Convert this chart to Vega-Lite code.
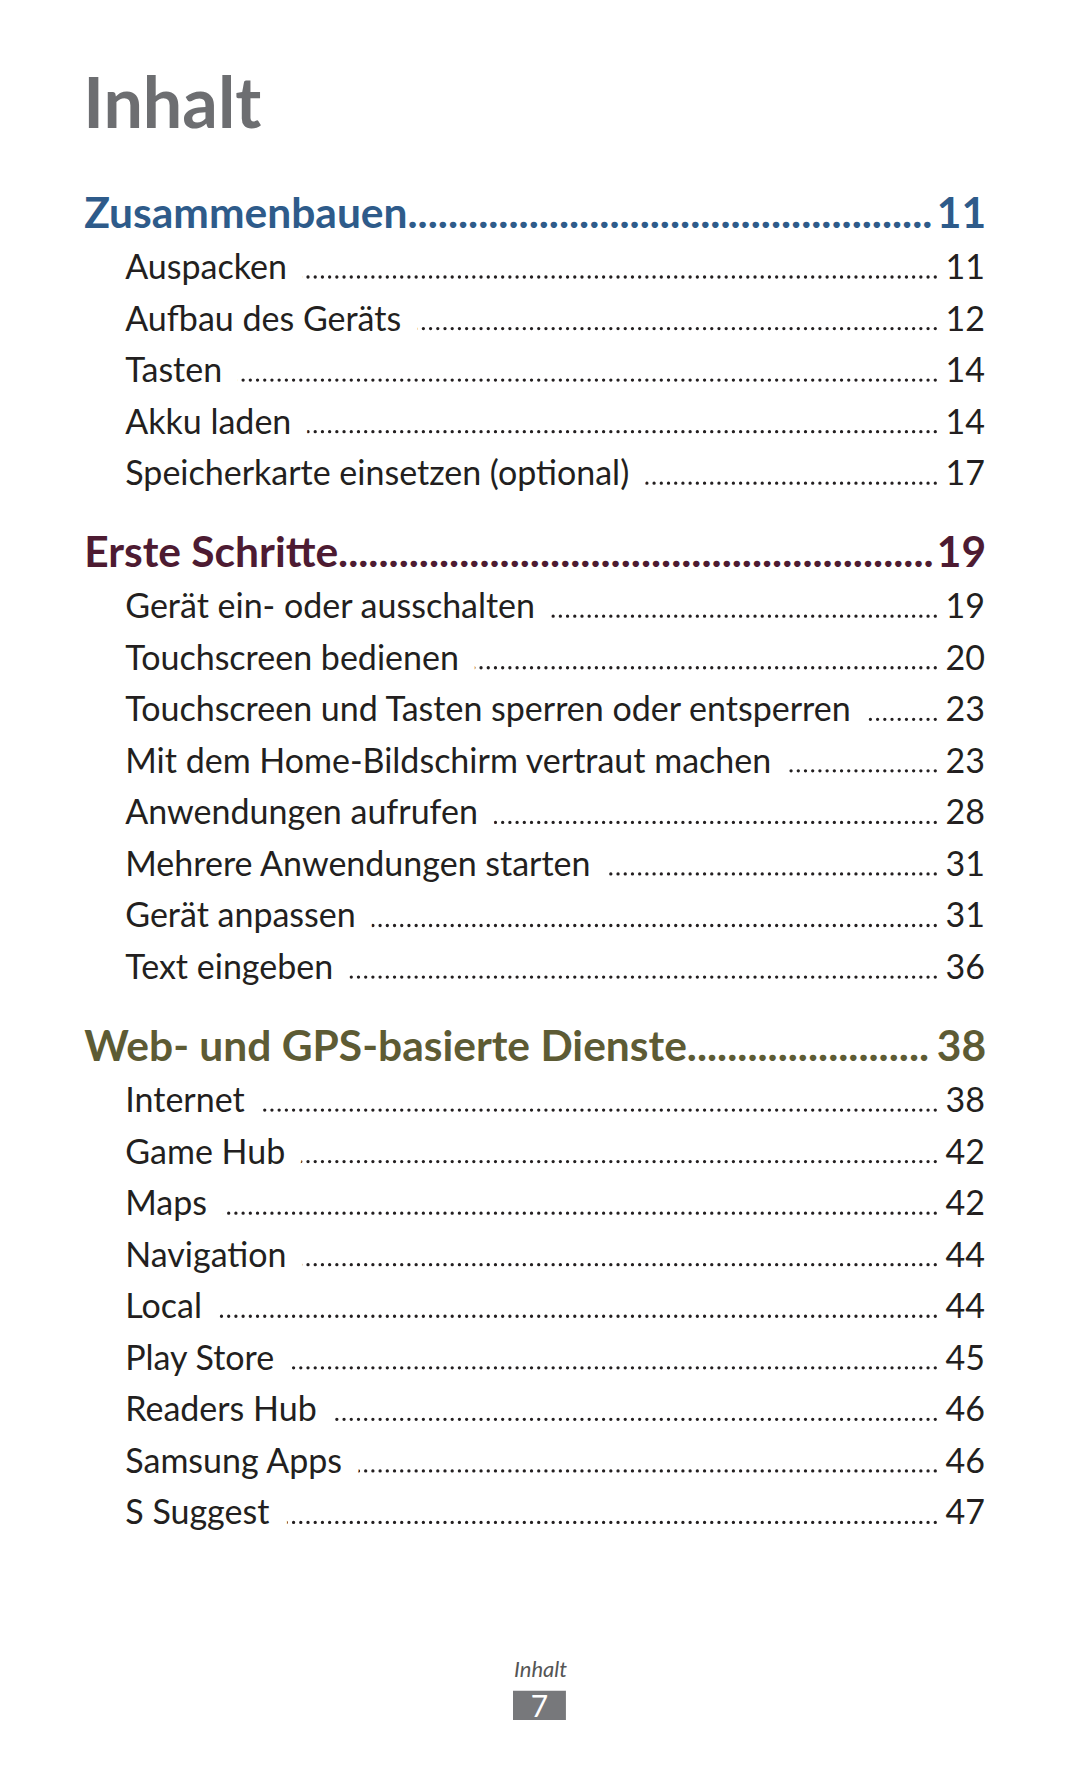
{"$schema":"https://vega.github.io/schema/vega-lite/v6.json","width":1080,"height":1771,"autosize":{"type":"fit","contains":"padding"},"padding":0,"background":"white","config":{"view":{"stroke":null}},
"datasets":{
"toc":[
{"kind":"section","label":"Zusammenbauen","page":"11","line":-0.01,"section":"Zusammenbauen"},
{"kind":"entry","label":"Auspacken","page":"11","line":1,"section":"Zusammenbauen"},
{"kind":"entry","label":"Aufbau des Geräts","page":"12","line":2,"section":"Zusammenbauen"},
{"kind":"entry","label":"Tasten","page":"14","line":3,"section":"Zusammenbauen"},
{"kind":"entry","label":"Akku laden","page":"14","line":4,"section":"Zusammenbauen"},
{"kind":"entry","label":"Speicherkarte einsetzen (optional)","page":"17","line":5,"section":"Zusammenbauen"},
{"kind":"section","label":"Erste Schritte","page":"19","line":6.56,"section":"Erste Schritte"},
{"kind":"entry","label":"Gerät ein- oder ausschalten","page":"19","line":7.58,"section":"Erste Schritte"},
{"kind":"entry","label":"Touchscreen bedienen","page":"20","line":8.58,"section":"Erste Schritte"},
{"kind":"entry","label":"Touchscreen und Tasten sperren oder entsperren","page":"23","line":9.58,"section":"Erste Schritte"},
{"kind":"entry","label":"Mit dem Home-Bildschirm vertraut machen","page":"23","line":10.58,"section":"Erste Schritte"},
{"kind":"entry","label":"Anwendungen aufrufen","page":"28","line":11.58,"section":"Erste Schritte"},
{"kind":"entry","label":"Mehrere Anwendungen starten","page":"31","line":12.58,"section":"Erste Schritte"},
{"kind":"entry","label":"Gerät anpassen","page":"31","line":13.58,"section":"Erste Schritte"},
{"kind":"entry","label":"Text eingeben","page":"36","line":14.58,"section":"Erste Schritte"},
{"kind":"section","label":"Web- und GPS-basierte Dienste","page":"38","line":16.16,"section":"Web- und GPS-basierte Dienste"},
{"kind":"entry","label":"Internet","page":"38","line":17.16,"section":"Web- und GPS-basierte Dienste"},
{"kind":"entry","label":"Game Hub","page":"42","line":18.16,"section":"Web- und GPS-basierte Dienste"},
{"kind":"entry","label":"Maps","page":"42","line":19.16,"section":"Web- und GPS-basierte Dienste"},
{"kind":"entry","label":"Navigation","page":"44","line":20.16,"section":"Web- und GPS-basierte Dienste"},
{"kind":"entry","label":"Local","page":"44","line":21.16,"section":"Web- und GPS-basierte Dienste"},
{"kind":"entry","label":"Play Store","page":"45","line":22.16,"section":"Web- und GPS-basierte Dienste"},
{"kind":"entry","label":"Readers Hub","page":"46","line":23.16,"section":"Web- und GPS-basierte Dienste"},
{"kind":"entry","label":"Samsung Apps","page":"46","line":24.16,"section":"Web- und GPS-basierte Dienste"},
{"kind":"entry","label":"S Suggest","page":"47","line":25.16,"section":"Web- und GPS-basierte Dienste"}
],
"page":[
{"role":"title","text":"Inhalt","line":-1.885},
{"role":"footer","text":"Inhalt","line":28.16},
{"role":"pageno","text":"7","line":28.934}
]},
"layer":[
{"data":{"name":"toc"},"transform":[{"filter":"datum.kind == 'entry'"}],
 "mark":{"type":"rule","strokeWidth":3.3,"strokeCap":"round","strokeDash":[0.01,7.2],"color":"#231f20"},
 "encoding":{"x":{"datum":86.6,"type":"quantitative","scale":{"domain":[0,100],"nice":false,"zero":false},"axis":null},"x2":{"datum":11.6},
  "y":{"field":"line","type":"quantitative","scale":{"domain":[-4.373,29.982],"reverse":true,"nice":false,"zero":false},"axis":null}}},
{"data":{"name":"toc"},"transform":[{"filter":"datum.kind == 'entry'"}],
 "mark":{"type":"text","align":"left","baseline":"alphabetic","font":"Lato","fontSize":34,"dy":2,"fill":"white","stroke":"white","strokeWidth":36,"strokeJoin":"round"},
 "encoding":{"x":{"datum":11.6,"type":"quantitative"},"y":{"field":"line","type":"quantitative"},"text":{"field":"label"}}},
{"data":{"name":"toc"},"transform":[{"filter":"datum.kind == 'entry'"}],
 "mark":{"type":"text","align":"left","baseline":"alphabetic","font":"Lato","fontSize":34,"dy":2,"color":"#231f20"},
 "encoding":{"x":{"datum":11.6,"type":"quantitative"},"y":{"field":"line","type":"quantitative"},"text":{"field":"label"}}},
{"data":{"name":"toc"},"transform":[{"filter":"datum.kind == 'entry'"}],
 "mark":{"type":"text","align":"right","baseline":"alphabetic","font":"Lato","fontSize":34,"dy":2,"color":"#231f20"},
 "encoding":{"x":{"datum":91.2,"type":"quantitative"},"y":{"field":"line","type":"quantitative"},"text":{"field":"page"}}},
{"data":{"name":"toc"},"transform":[{"filter":"datum.kind == 'section'"},{"calculate":"datum.label + '..........................................................................................'","as":"leader"}],
 "mark":{"type":"text","align":"left","baseline":"alphabetic","font":"Lato","fontWeight":"bold","fontSize":42.5,"dy":3,"limit":850,"ellipsis":"."},
 "encoding":{"x":{"datum":7.8,"type":"quantitative"},"y":{"field":"line","type":"quantitative"},"text":{"field":"leader"},
  "color":{"field":"section","type":"nominal","scale":{"domain":["Zusammenbauen","Erste Schritte","Web- und GPS-basierte Dienste"],"range":["#2e5b8a","#4d1b32","#5d5b34"]},"legend":null}}},
{"data":{"name":"toc"},"transform":[{"filter":"datum.kind == 'section'"}],
 "mark":{"type":"text","align":"right","baseline":"alphabetic","font":"Lato","fontWeight":"bold","fontSize":42.5,"dy":3},
 "encoding":{"x":{"datum":91.3,"type":"quantitative"},"y":{"field":"line","type":"quantitative"},"text":{"field":"page"},
  "color":{"field":"section","type":"nominal","legend":null}}},
{"data":{"name":"page"},"transform":[{"filter":"datum.role == 'title'"}],
 "mark":{"type":"text","align":"left","baseline":"alphabetic","font":"Lato","fontWeight":"bold","fontSize":70,"color":"#6d6e71"},
 "encoding":{"x":{"datum":7.7,"type":"quantitative"},"y":{"field":"line","type":"quantitative"},"text":{"field":"text"}}},
{"data":{"name":"page"},"transform":[{"filter":"datum.role == 'footer'"}],
 "mark":{"type":"text","align":"center","baseline":"alphabetic","font":"Lato","fontStyle":"italic","fontSize":22,"color":"#555555"},
 "encoding":{"x":{"datum":50.05,"type":"quantitative"},"y":{"field":"line","type":"quantitative"},"text":{"field":"text"}}},
{"data":{"name":"page"},"transform":[{"filter":"datum.role == 'pageno'"}],
 "mark":{"type":"rect","color":"#77787b"},
 "encoding":{"x":{"datum":47.5,"type":"quantitative"},"x2":{"datum":52.4},"y":{"datum":28.424,"type":"quantitative"},"y2":{"datum":28.992}}},
{"data":{"name":"page"},"transform":[{"filter":"datum.role == 'pageno'"}],
 "mark":{"type":"text","align":"center","baseline":"alphabetic","font":"Lato","fontSize":30,"color":"white"},
 "encoding":{"x":{"datum":49.95,"type":"quantitative"},"y":{"field":"line","type":"quantitative"},"text":{"field":"text"}}}
]}
